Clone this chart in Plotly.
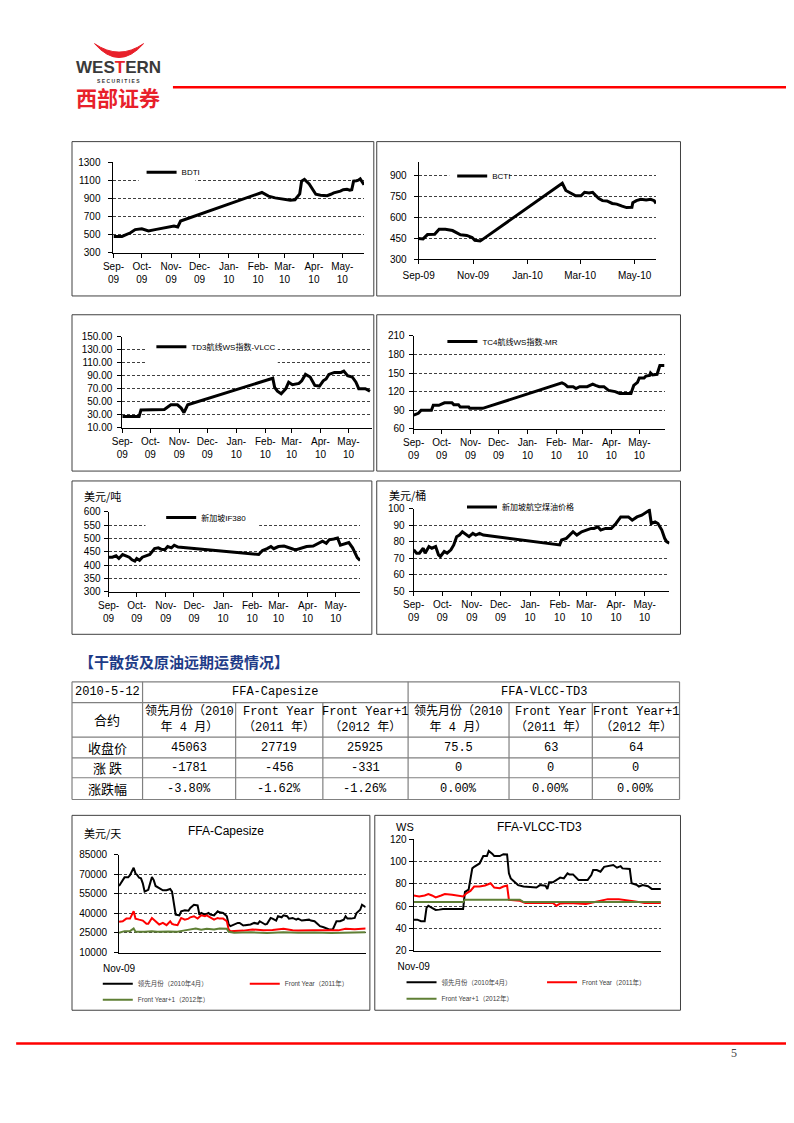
import plotly.graph_objects as go
import pandas as pd

W, H = 794, 1123
OFF = 8  # browser default body margin; page coordinates below are compensated for it

# ---------------- DATA ----------------
BASE = pd.Timestamp("2009-09-01")  # day offsets below are days since this date

bdti_day = [0, 9, 18, 23, 30, 37, 44, 51, 54, 61, 64, 68, 71, 157, 164, 171, 181, 187, 192, 195,
            197, 199, 202, 207, 211, 214, 219, 226, 230, 233, 240, 243, 247, 250, 252, 254, 257, 259, 261, 262, 265]
bdti_val = [480, 480, 520, 555, 565, 540, 555, 570, 580, 590, 595, 585, 650, 965, 925, 905, 890, 880, 885, 920,
            950, 1090, 1110, 1060, 990, 945, 935, 930, 945, 960, 980, 995, 1000, 990, 995, 1090, 1095, 1100, 1115, 1100, 1050]

bcti_day = [0, 5, 10, 18, 23, 30, 38, 43, 47, 54, 60, 63, 69, 71, 161, 165, 171, 176, 182, 186,
            191, 195, 198, 202, 206, 211, 217, 222, 228, 233, 239, 240, 244, 249, 255, 260, 264, 266]
bcti_val = [448, 445, 476, 478, 514, 515, 505, 490, 475, 470, 455, 435, 430, 438, 845, 793, 770, 755, 755, 780,
            775, 780, 760, 735, 720, 718, 700, 695, 680, 670, 672, 705, 720, 730, 725, 730, 720, 700]

td3_day = [0, 18, 20, 45, 49, 52, 59, 63, 66, 70, 161, 163, 166, 170, 175, 178, 182, 189, 192, 196,
           201, 206, 211, 215, 218, 221, 227, 234, 237, 241, 246, 250, 253, 260, 265]
td3_val = [27, 27, 37, 38, 42, 45, 45, 40, 33, 45, 86, 72, 66, 62, 70, 80, 76, 78, 82, 92,
           88, 75, 74, 82, 85, 92, 95, 95, 97, 90, 88, 80, 70, 70, 66]

tc4_day = [0, 5, 8, 19, 21, 27, 33, 41, 43, 48, 50, 59, 60, 74, 159, 162, 165, 171, 174, 178,
           186, 192, 195, 199, 204, 209, 216, 221, 233, 236, 240, 242, 247, 249, 253, 254, 256, 261, 264, 269]
tc4_val = [82, 85, 90, 90, 98, 98, 102, 102, 99, 99, 95, 95, 93, 93, 134, 132, 128, 128, 125, 128,
           128, 132, 130, 128, 128, 122, 120, 117, 117, 130, 135, 142, 142, 145, 146, 150, 147, 148, 162, 162]

if380_day = [0, 4, 8, 11, 15, 18, 22, 25, 28, 30, 33, 36, 41, 44, 49, 53, 56, 60, 63, 67,
             70, 74, 160, 164, 169, 173, 176, 181, 187, 192, 197, 200, 206, 211, 218, 223, 228, 232, 235, 240,
             244, 247, 253, 256, 260, 263, 265, 268]
if380_val = [430, 430, 435, 425, 440, 435, 430, 420, 415, 425, 418, 430, 435, 440, 462, 465, 460, 458, 470, 465,
             475, 468, 440, 455, 462, 470, 462, 470, 472, 465, 460, 458, 465, 470, 472, 480, 490, 482, 495, 498,
             502, 475, 480, 485, 465, 440, 428, 418]

jet_day = [0, 3, 6, 10, 12, 16, 19, 23, 26, 28, 32, 35, 39, 42, 45, 48, 51, 55, 58, 62,
           65, 69, 73, 153, 155, 160, 164, 167, 171, 176, 181, 186, 189, 193, 196, 201, 207, 212, 217, 222,
           225, 229, 234, 239, 244, 247, 249, 253, 256, 260, 263, 265, 268]
jet_val = [75, 73, 73, 76, 73, 77, 76, 77, 72, 71, 74, 73, 75, 78, 83, 84, 86, 84, 83, 85,
           84, 85, 84, 78, 81, 82, 84, 86, 84, 86, 87, 88, 88, 89, 87, 88, 88, 91, 95, 95,
           95, 93, 95, 96, 98, 99, 91, 92, 91, 87, 82, 80, 79]

month_ticks = ["2009-09-01", "2009-10-01", "2009-11-01", "2009-12-01", "2010-01-01",
               "2010-02-01", "2010-03-01", "2010-04-01", "2010-05-01"]
month_labels = ["Sep-<br>09", "Oct-<br>09", "Nov-<br>09", "Dec-<br>09", "Jan-<br>10",
                "Feb-<br>10", "Mar-<br>10", "Apr-<br>10", "May-<br>10"]
bcti_ticks = ["2009-09-01", "2009-11-01", "2010-01-01", "2010-03-01", "2010-05-01"]
bcti_labels = ["Sep-09", "Nov-09", "Jan-10", "Mar-10", "May-10"]

# FFA series: x = trading-day number since start of Nov-09
cape_idx = [0, 2, 3, 5, 6, 8, 9, 10, 11, 12, 13, 14, 16, 18, 19, 20, 22, 24, 26, 28,
            29, 30, 31, 33, 34, 36, 38, 39, 41, 43, 44, 45, 47, 49, 50, 52, 54, 55, 57, 59,
            60, 61, 63, 65, 66, 68, 69, 71, 72, 74, 76, 77, 79, 80, 81, 83, 84, 86, 87, 89,
            90, 92, 93, 95, 97, 98, 100, 102, 104, 105, 107, 109, 110, 112, 114, 115, 117, 119, 121, 123,
            124, 125, 127, 129, 130, 132, 133, 135]
cape_lead = [61000, 65500, 67600, 67600, 69300, 75000, 70600, 69300, 67300, 66800, 63000, 56700, 58000, 67800, 65500, 61000, 59200, 57700, 57700, 58700,
             56700, 47100, 39000, 38500, 41600, 42300, 42000, 44100, 46600, 46100, 39000, 40300, 39000, 40300, 39000, 38500, 41600, 40800, 40300, 37800,
             31500, 30200, 31500, 32700, 32700, 30700, 31000, 31500, 31500, 32700, 32000, 34000, 32000, 31500, 32000, 36500, 36000, 34500, 37800, 37000,
             38500, 37800, 36000, 36500, 35200, 36000, 34500, 35000, 35200, 34500, 34000, 31500, 30200, 29400, 28400, 27700, 27700, 34000, 34000, 35200,
             37800, 36000, 36000, 36500, 40300, 42800, 46600, 44800]
cape_fy_idx = [0, 2, 4, 6, 8, 9, 11, 13, 15, 16, 18, 19, 21, 22, 24, 26, 28, 29, 30, 32,
               34, 36, 38, 39, 41, 43, 45, 47, 48, 50, 52, 54, 55, 57, 59, 60, 61, 63, 68, 73,
               79, 84, 90, 95, 98, 106, 111, 116, 120, 124, 129, 135]
cape_fy = [33500, 34000, 36000, 36000, 41600, 36000, 35200, 34500, 32000, 32000, 36500, 35200, 32700, 31500, 32700, 31000, 34000, 32000, 31500, 31000,
           36500, 35200, 36000, 37000, 37800, 36000, 38500, 37800, 38500, 37000, 35200, 36500, 36000, 36000, 34000, 27700, 26400, 26500, 26800, 27700,
           27000, 27300, 28200, 27000, 26800, 27000, 27000, 26800, 27000, 28200, 27800, 28400]
cape_fy1_idx = [0, 3, 6, 8, 9, 14, 18, 21, 27, 32, 36, 39, 42, 45, 48, 52, 55, 59, 60, 63,
                72, 81, 90, 98, 107, 116, 125, 135]
cape_fy1 = [25200, 26400, 26400, 28400, 26000, 25900, 26400, 25900, 26200, 25900, 27000, 27700, 28400, 27500, 28200, 27700, 28400, 28200, 25900, 25200,
            25500, 25000, 25500, 25200, 25400, 25000, 25500, 25600]

vlcc_idx = [0, 2, 4, 6, 7, 8, 10, 12, 14, 16, 19, 23, 27, 28, 30, 32, 33, 36, 38, 40,
            41, 43, 44, 47, 49, 51, 52, 53, 55, 57, 60, 64, 67, 69, 72, 73, 74, 76, 78, 80,
            82, 84, 85, 87, 90, 92, 95, 97, 98, 100, 102, 104, 106, 109, 111, 113, 114, 118, 119, 122,
            123, 125, 128, 130, 135]
vlcc_lead = [48, 48, 46.6, 46.6, 58.5, 60.5, 58.5, 56.7, 57, 57.6, 57.6, 57.6, 57.5, 73, 75, 94, 95.4, 98.4, 105, 105,
             109.6, 107, 105, 105, 106.7, 106.5, 89.5, 85, 82, 79, 77.7, 76.8, 76.8, 79, 78.5, 75.6, 81.5, 81.5, 83.6, 85.7,
             85, 89.5, 88.6, 88.6, 83.6, 83.6, 83.6, 88, 92.5, 92.5, 91, 95.4, 96, 97, 94.6, 96, 94, 93.4, 80.7, 79,
             77.7, 79, 78, 75.6, 75.6]
vlcc_fy_idx = [0, 3, 6, 8, 10, 12, 15, 17, 21, 25, 27, 29, 31, 33, 36, 39, 42, 44, 47, 49,
               51, 52, 58, 61, 67, 76, 78, 80, 85, 94, 99, 103, 106, 112, 115, 121, 126, 135]
vlcc_fy = [69.7, 68.8, 69.7, 71, 69.7, 68, 69.7, 71, 70.3, 69.7, 68.8, 71.8, 73.8, 77.7, 77.7, 78.6, 80.6, 76.8, 76.2, 77.7,
           78.6, 65.9, 65, 63, 63, 63, 60.5, 62.5, 63, 62, 63.8, 65, 66.4, 66.4, 65.9, 64.4, 63, 63]
vlcc_fy1_idx = [0, 27, 28, 58, 60, 135]
vlcc_fy1 = [63.8, 63.8, 65.9, 65.9, 63.8, 63.8]

ffa_tick_label = ["Nov-09"]
ffa_names = ["领先月份（2010年4月）", "Front Year（2011年）", "Front Year+1（2012年）"]

# Table
table_date = "2010-5-12"
table_groups = ["FFA-Capesize", "FFA-VLCC-TD3"]
row_labels = ["合约", "收盘价", "涨 跌", "涨跌幅"]
contracts = ["领先月份（2010<br>年 4 月）", "Front Year<br>（2011 年）", "Front Year+1<br>（2012 年）",
             "领先月份（2010<br>年 4 月）", "Front Year<br>（2011 年）", "Front Year+1<br>（2012 年）"]
close_px = ["45063", "27719", "25925", "75.5", "63", "64"]
change = ["-1781", "-456", "-331", "0", "0", "0"]
change_pct = ["-3.80%", "-1.62%", "-1.26%", "0.00%", "0.00%", "0.00%"]

# ---------------- HELPERS ----------------
def X(px):
    return (px - OFF) / W

def Y(py):
    return 1 - (py - OFF) / H

def dates(days):
    return [BASE + pd.Timedelta(days=int(d)) for d in days]

SANS = "Liberation Sans, Arial, Noto Sans CJK SC"
CJK = "Noto Sans CJK SC"
MONO = "Liberation Mono, Noto Sans CJK SC"

fig = go.Figure()
layout = dict(width=W, height=H, margin=dict(l=0, r=0, t=0, b=0),
              paper_bgcolor="white", plot_bgcolor="rgba(0,0,0,0)", showlegend=True)
shapes = []
annotations = []

def ax_name(kind, n):
    return f"{kind}axis" if n == 1 else f"{kind}axis{n}"

def ref(kind, n):
    return kind if n == 1 else f"{kind}{n}"

def leg_name(k):
    return "legend" if k == 1 else f"legend{k}"

legend_counter = [0]

def new_legend(lx, ly, size=8, color="black"):
    legend_counter[0] += 1
    k = legend_counter[0]
    layout[leg_name(k)] = dict(x=X(lx - 5), y=Y(ly), xanchor="left", yanchor="middle",
                               bgcolor="rgba(0,0,0,0)", borderwidth=0, itemwidth=30,
                               font=dict(family=SANS, size=size, color=color),
                               tracegroupgap=0)
    return leg_name(k)

def setup_axes(n, box, xrange, yrange, dtick, tickvals, ticktext, gap, fmt=None, ydates=True,
               xticks="outside", xstandoff=0):
    l, r, t, b = box
    xa = dict(domain=[X(l), X(r)], anchor=ref("y", n), range=xrange,
              showline=True, linecolor="black", linewidth=1, ticks=xticks, ticklen=4,
              tickcolor="black", showgrid=False, zeroline=False,
              tickmode="array", tickvals=tickvals, ticktext=ticktext,
              tickfont=dict(family=SANS, size=10, color="black"), fixedrange=True,
              ticklabelstandoff=int(round(xstandoff)))
    if ydates:
        xa["type"] = "date"
    ya = dict(domain=[Y(b), Y(t)], anchor=ref("x", n), range=list(yrange),
              showline=True, linecolor="black", linewidth=1, ticks="outside", ticklen=4,
              tickcolor="black", showgrid=True, gridcolor="#404040", gridwidth=1,
              griddash="3px,2px", zeroline=False, tick0=yrange[0], dtick=dtick,
              tickfont=dict(family=SANS, size=10, color="black"), fixedrange=True,
              ticklabelstandoff=int(round(max(gap - 7, 0))))
    if fmt:
        ya["tickformat"] = fmt
    layout[ax_name("x", n)] = xa
    layout[ax_name("y", n)] = ya

def white_box(n, box, xend, yr, wb):
    # white patch between the gridlines and the line, behind the in-chart legend
    l, r, t, b = box
    x0, y0, x1, y1 = wb
    def xd(px):
        return BASE + pd.Timedelta(days=(px - l) / (r - l) * xend)
    def yd(py):
        return yr[0] + (b - py) / (b - t) * (yr[1] - yr[0])
    shapes.append(dict(type="rect", layer="between", xref=ref("x", n), yref=ref("y", n),
                       x0=xd(x0), x1=xd(x1), y0=yd(y1), y1=yd(y0),
                       fillcolor="white", line=dict(width=0)))

def frame(f):
    x0, y0, x1, y1 = f
    shapes.append(dict(type="rect", xref="paper", yref="paper", x0=X(x0), x1=X(x1),
                       y0=Y(y1), y1=Y(y0), line=dict(color="#404040", width=1),
                       fillcolor="rgba(0,0,0,0)", layer="below"))

def text(x, y, s, size=11, family=SANS, color="black", xanchor="center", yanchor="middle"):
    annotations.append(dict(x=X(x), y=Y(y), xref="paper", yref="paper", text=s,
                            showarrow=False, xanchor=xanchor, yanchor=yanchor,
                            font=dict(family=family, size=size, color=color)))

def end_date(d):
    return BASE + pd.Timedelta(days=d)

# ---------------- TOP SIX CHARTS ----------------
top = [
    dict(n=1, name="BDTI", d=bdti_day, v=bdti_val, box=(99.3, 355, 157.7, 249.3), frame=(57, 137, 365, 293),
         xend=265, yr=(300, 1300), dt=200, gap=12.6, leg=(133, 168), wb=(125, 161, 183, 180),
         tv=month_ticks, tt=month_labels),
    dict(n=2, name="BCTI", d=bcti_day, v=bcti_val, box=(410.7, 653, 158, 255.7), frame=(368, 137, 678, 293),
         xend=266, yr=(300, 995), dt=150, gap=12.4, leg=(450, 171.7), wb=(442, 162, 503, 181),
         tv=bcti_ticks, tt=bcti_labels, std=3),
    dict(n=3, name="TD3航线WS指数-VLCC", d=td3_day, v=td3_val, box=(108.3, 363, 334.3, 426), frame=(57, 312, 365, 470),
         xend=267, yr=(10, 150), dt=20, gap=10, leg=(143, 344.3), wb=(133, 329, 267, 366),
         tv=month_ticks, tt=month_labels, fmt=".2f"),
    dict(n=4, name="TC4航线WS指数-MR", d=tc4_day, v=tc4_val, box=(405.7, 661.7, 333.3, 427.3), frame=(368, 312, 678, 470),
         xend=269, yr=(60, 210), dt=30, gap=9, leg=(440, 339), wb=(423, 328, 562, 345),
         tv=month_ticks, tt=month_labels),
    dict(n=5, name="新加坡IF380", d=if380_day, v=if380_val, box=(94.3, 351, 511.3, 592), frame=(57, 480, 363, 635),
         xend=268, yr=(300, 600), dt=50, gap=7.6, leg=(153, 517), wb=(132, 506, 248, 530),
         tv=month_ticks, tt=month_labels),
    dict(n=6, name="新加坡航空煤油价格", d=jet_day, v=jet_val, box=(405.7, 666.7, 508, 591.3), frame=(368, 480, 678, 635),
         xend=268, yr=(50, 100), dt=10, gap=9, leg=(460, 506.3), wb=(425, 503, 597, 518),
         tv=month_ticks, tt=month_labels),
]

for c in top:
    n = c["n"]
    frame(c["frame"])
    setup_axes(n, c["box"], [BASE, end_date(c["xend"])], c["yr"], c["dt"], c["tv"], c["tt"],
               c["gap"], fmt=c.get("fmt"), xstandoff=c.get("std", 0))
    white_box(n, c["box"], c["xend"], c["yr"], c["wb"])
    lg = new_legend(*c["leg"])
    fig.add_trace(go.Scatter(x=dates(c["d"]), y=c["v"], mode="lines", name=c["name"],
                             line=dict(color="black", width=3), xaxis=ref("x", n), yaxis=ref("y", n),
                             legend=lg, hoverinfo="skip"))

text(67, 495, "美元/吨", size=11, family=CJK, xanchor="left")
text(378, 494, "美元/桶", size=11, family=CJK, xanchor="left")

# ---------------- FFA CHARTS ----------------
ffa_colors = ["black", "#FF0000", "#5F7F35"]

ffa = [
    dict(n=7, box=(105, 356.7, 857.7, 956.7), frame=(57, 818, 361, 1015), yr=(10000, 85000), dt=15000, gap=11.7,
         series=[(cape_idx, cape_lead), (cape_fy_idx, cape_fy), (cape_fy1_idx, cape_fy1)],
         legs=[(88.3, 988.3), (238.3, 988.3), (88.3, 1004.3)], fmt="d"),
    dict(n=8, box=(405.7, 658, 842.3, 955), frame=(366, 818, 678, 1015), yr=(20, 120), dt=20, gap=6,
         series=[(vlcc_idx, vlcc_lead), (vlcc_fy_idx, vlcc_fy), (vlcc_fy1_idx, vlcc_fy1)],
         legs=[(398.3, 986.7), (541.7, 986.7), (398.3, 1003.3)], fmt="d"),
]

for c in ffa:
    n = c["n"]
    frame(c["frame"])
    setup_axes(n, c["box"], [0, 135], c["yr"], c["dt"], [0], ffa_tick_label, c["gap"],
               fmt=c["fmt"], ydates=False, xticks="", xstandoff=6)
    for (xs, ys), col, nm, lpos in zip(c["series"], ffa_colors, ffa_names, c["legs"]):
        lg = new_legend(*lpos, size=6.5, color="#404040")
        fig.add_trace(go.Scatter(x=xs, y=ys, mode="lines", name=nm,
                                 line=dict(color=col, width=2), xaxis=ref("x", n), yaxis=ref("y", n),
                                 legend=lg, hoverinfo="skip"))

text(67, 836, "美元/天", size=11, family=CJK, xanchor="left")
text(214, 834, "FFA-Capesize", size=12)
text(386, 830, "WS", size=11, xanchor="left")
text(534, 830, "FFA-VLCC-TD3", size=12)

# ---------------- TABLE ----------------
text(62, 662, "<b>【干散货及原油远期运费情况】</b>", size=15, family=CJK, color="#1F3C88", xanchor="left")

cols = [57, 129, 224, 313, 400, 503, 588, 677]
rows = [683, 704, 739, 760, 780, 802]
TL = "#808080"

def hline(x0, x1, y):
    shapes.append(dict(type="line", xref="paper", yref="paper", x0=X(x0), x1=X(x1), y0=Y(y), y1=Y(y),
                       line=dict(color=TL, width=1.2)))

def vline(x, y0, y1):
    shapes.append(dict(type="line", xref="paper", yref="paper", x0=X(x), x1=X(x), y0=Y(y0), y1=Y(y1),
                       line=dict(color=TL, width=1.2)))

for yy in rows:
    hline(cols[0], cols[-1], yy)
for i, xx in enumerate(cols):
    if i in (2, 3, 5, 6):
        vline(xx, rows[1], rows[-1])
    else:
        vline(xx, rows[0], rows[-1])

def cell_center(i0, i1, r):
    return (cols[i0] + cols[i1]) / 2, (rows[r] + rows[r + 1]) / 2

x, y = cell_center(0, 1, 0)
text(x, y, table_date, size=12, family=MONO)
x, y = cell_center(1, 4, 0)
text(x, y, table_groups[0], size=12, family=MONO)
x, y = cell_center(4, 7, 0)
text(x, y, table_groups[1], size=12, family=MONO)
for r, lab in enumerate(row_labels):
    x, y = cell_center(0, 1, r + 1)
    text(x, y, lab, size=13, family=CJK)
for j in range(6):
    x, y = cell_center(j + 1, j + 2, 1)
    text(x, y, contracts[j], size=12, family=MONO)
    x, y = cell_center(j + 1, j + 2, 2)
    text(x, y, close_px[j], size=12, family=MONO)
    x, y = cell_center(j + 1, j + 2, 3)
    text(x, y, change[j], size=12, family=MONO)
    x, y = cell_center(j + 1, j + 2, 4)
    text(x, y, change_pct[j], size=12, family=MONO)

# ---------------- HEADER / FOOTER ----------------
path = (f"M {X(80)} {Y(38)} Q {X(105)} {Y(66)} {X(130)} {Y(38)} "
        f"Q {X(105)} {Y(55)} {X(80)} {Y(38)} Z")
shapes.append(dict(type="path", xref="paper", yref="paper", path=path, fillcolor="#E8202A",
                   line=dict(color="#E8202A", width=1)))
text(104.5, 62, "<b>WES<span style='color:#E8202A'>T</span>ERN</b>", size=17, color="#3a3a3a")
text(104.5, 75.5, "<b>S E C U R I T I E S</b>", size=5, color="#3a3a3a")
text(104, 92, "<b>西部证券</b>", size=21, family=CJK, color="#E8202A")
shapes.append(dict(type="line", xref="paper", yref="paper", x0=X(160), x1=X(800), y0=Y(82), y1=Y(82),
                   line=dict(color="#FF0000", width=2.5)))
shapes.append(dict(type="line", xref="paper", yref="paper", x0=X(0), x1=X(800), y0=Y(1048.5), y1=Y(1048.5),
                   line=dict(color="#FF0000", width=2.5)))
text(733, 1058, "5", size=12, family="Liberation Serif", color="#444444")

layout["shapes"] = shapes
layout["annotations"] = annotations
fig.update_layout(**layout)
fig.write_html("out.html", config={"displayModeBar": False})
